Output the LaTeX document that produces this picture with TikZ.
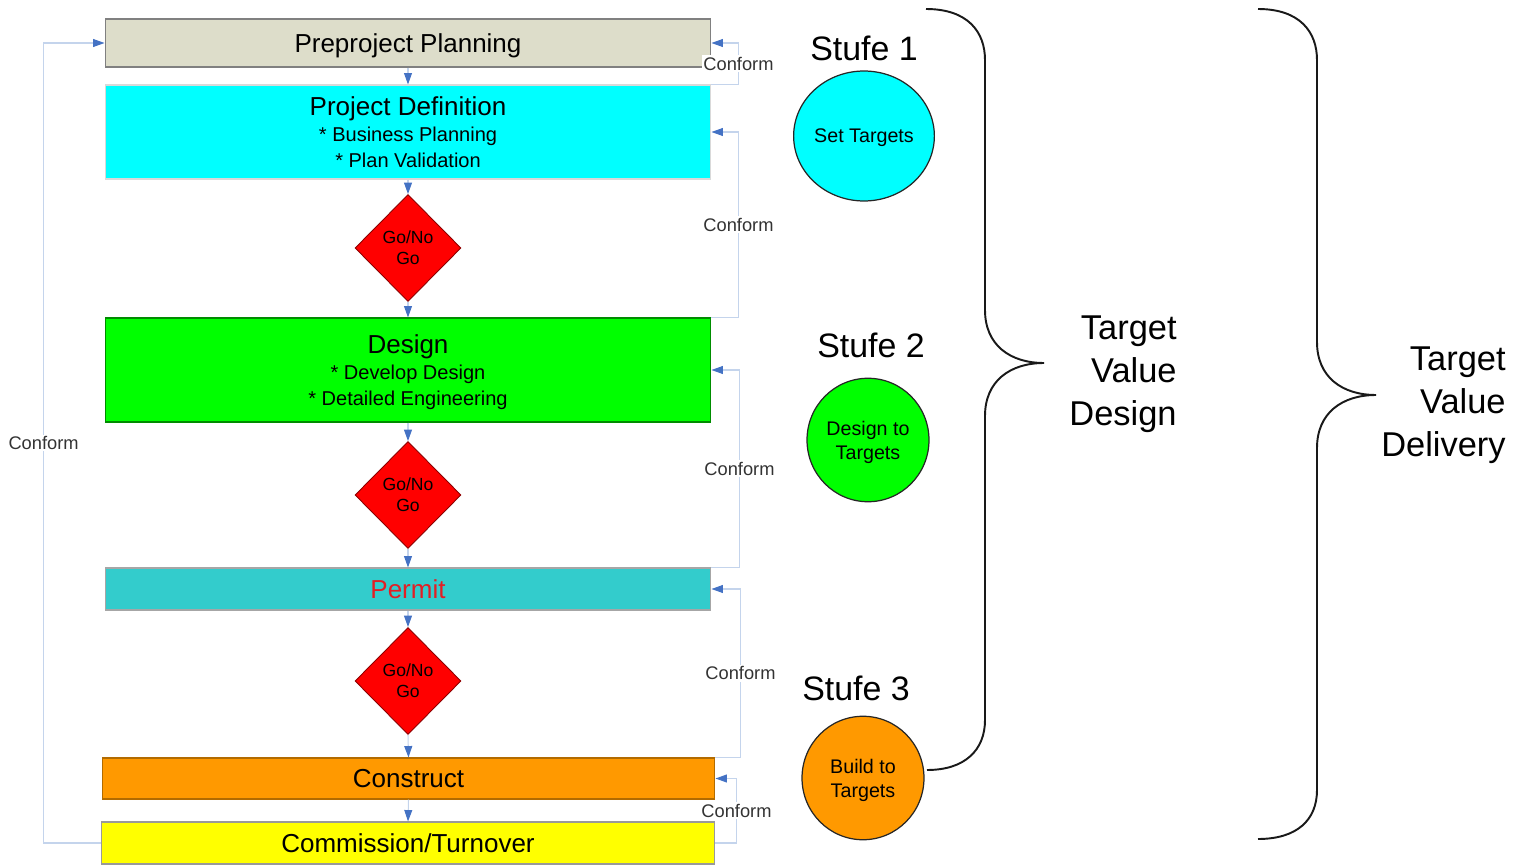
\documentclass[tikz,border=0pt]{standalone}
\usepackage{fontspec}
\setmainfont{Liberation Sans}
\usetikzlibrary{arrows.meta,shapes.geometric}

\definecolor{ppgray}{HTML}{DDDDCA}
\definecolor{cyanc}{HTML}{00FFFF}
\definecolor{greenc}{HTML}{00FF00}
\definecolor{redc}{HTML}{FF0000}
\definecolor{yellowc}{HTML}{FFFF00}
\definecolor{permitc}{HTML}{33CCCC}
\definecolor{orangec}{HTML}{FF9900}
\definecolor{tipblue}{HTML}{4472C4}
\definecolor{lineblue}{HTML}{C4D4EC}
\definecolor{permitred}{HTML}{E31E24}
\newcommand{\subl}{\fontsize{11.4}{14.7}\selectfont}

\begin{document}
\begin{tikzpicture}[
  x=0.02cm, y=-0.02cm,
  box/.style={draw=black!45, line width=0.6pt, minimum width=12.12cm, inner sep=0pt, text depth=0pt, align=center, font=\fontsize{14.8}{14.7}\selectfont},
  gate/.style={diamond, draw=redc!55!black, line width=0.5pt, fill=redc, minimum width=2.12cm, minimum height=2.14cm, inner sep=0pt, align=center, font=\fontsize{10}{12}\selectfont},
  stufe/.style={inner sep=0pt, font=\fontsize{19.3}{23}\selectfont},
  ring/.style={ellipse, draw=black!85, line width=0.7pt, minimum width=2.44cm, minimum height=2.47cm, inner sep=0pt, text depth=0pt, align=center, font=\fontsize{11.2}{13.8}\selectfont},
  big/.style={inner sep=0pt, anchor=east, align=right, font=\fontsize{19.6}{24.4}\selectfont},
  arr/.style={draw=lineblue, line width=0.6pt, -{Triangle[length=6.5pt, width=4.5pt, color=tipblue]}},
  conf/.style={arr, rounded corners=0pt},
  clab/.style={fill=white, inner sep=1pt, font=\fontsize{10.4}{12}\selectfont, text=black!80},
  brace/.style={draw=black!90, line width=1.1pt}
]
\useasboundingbox (0,0) rectangle (1519,865);

% process column
\node[box, fill=ppgray, draw=black!50, minimum height=0.96cm] (pp) at (408,43) {Preproject Planning};
\node[box, fill=cyanc, draw=black!15, minimum height=1.88cm] (pd) at (408,132)
  {Project Definition\\\subl * Business Planning\\\subl * Plan Validation};
\node[gate] (g1) at (408,248) {Go/No\\Go};
\node[box, fill=greenc, draw=greenc!55!black, minimum height=2.08cm] (ds) at (408,370)
  {Design\\\subl * Develop Design\\\subl * Detailed Engineering};
\node[gate] (g2) at (408,495) {Go/No\\Go};
\node[box, fill=permitc, draw=black!35, minimum height=0.84cm, text=permitred] (pm) at (408,589) {Permit};
\node[gate] (g3) at (408,681) {Go/No\\Go};
\node[box, fill=orangec, draw=orangec!70!black, minimum width=12.26cm, minimum height=0.82cm] (cn) at (408.5,778.5) {Construct};
\node[box, fill=yellowc, draw=black!40, minimum width=12.28cm, minimum height=0.84cm] (ct) at (408,843) {Commission/Turnover};

% flow arrows
\foreach \a/\b in {pp/pd, pd/g1, g1/ds, ds/g2, g2/pm, pm/g3, g3/cn, cn/ct}
  \draw[arr] (\a.south) -- (\b.north);

% conform loops
\foreach \a/\b/\d in {pd/pp/27, ds/pd/27, pm/ds/28, cn/pm/25}
  \draw[conf] (\a.north east) -- ++(\d,0) |- node[clab, pos=0.25] {Conform} (\b.east);
\draw[conf] (ct.east) -- ++(21,0) |- node[clab, pos=0.25] {Conform} (cn.east);
\draw[conf] (ct.west) -- ++(-57,0) |- node[clab, pos=0.25] {Conform} (pp.west);

% stages
\node[stufe] (st1) at (864,48) {Stufe 1};
\node[ring, fill=cyanc, minimum width=2.56cm, minimum height=2.6cm] (tg1) at (864,136) {Set Targets};
\node[stufe] (st2) at (871,345) {Stufe 2};
\node[ring, fill=greenc] (tg2) at (868,440) {Design to\\Targets};
\node[stufe] (st3) at (856,688) {Stufe 3};
\node[ring, fill=orangec] (tg3) at (863,778) {Build to\\Targets};

% braces
\draw[brace] (926,9) .. controls (968,9) and (985,32) .. (985,60) -- (985,310)
  .. controls (985,345) and (1010,363) .. (1044,363)
  .. controls (1010,363) and (985,381) .. (985,416) -- (985,720)
  .. controls (985,750) and (965,770) .. (927,770);
\draw[brace] (1258,9) .. controls (1300,9) and (1317,32) .. (1317,60) -- (1317,342)
  .. controls (1317,377) and (1342,395) .. (1376,395)
  .. controls (1342,395) and (1317,413) .. (1317,448) -- (1317,790)
  .. controls (1317,820) and (1297,839) .. (1258,839);

\node[big] (tvd) at (1177,374) {Target\\Value\\Design};
\node[big] (tvdl) at (1506,405) {Target\\Value\\Delivery};
\end{tikzpicture}
\end{document}
